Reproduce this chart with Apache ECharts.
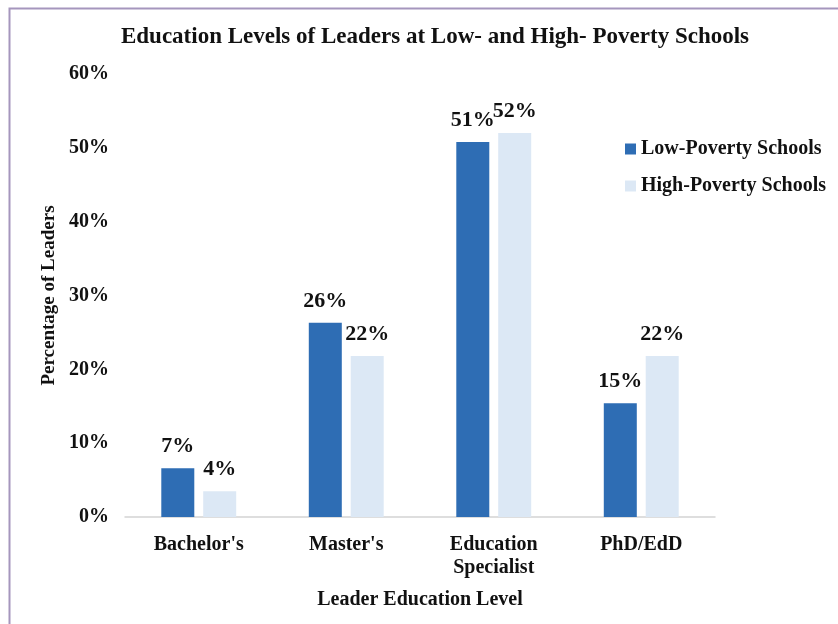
<!DOCTYPE html>
<html><head><meta charset="utf-8">
<script src="https://cdn.jsdelivr.net/npm/echarts@6/dist/echarts.min.js"></script>
<style>html,body{margin:0;padding:0;background:#fff}#c{width:838px;height:624px}</style>
</head><body><div id="c"></div>
<script>
const categories = ["Bachelor's", "Master's", "Education\nSpecialist", "PhD/EdD"];
const lowPoverty = [6.6, 26.3, 50.8, 15.4];
const highPoverty = [3.5, 21.8, 52.0, 21.8];
const yTicks = [0, 10, 20, 30, 40, 50, 60];
const seriesNames = ["Low-Poverty Schools", "High-Poverty Schools"];

const font = '"Liberation Serif", "Times New Roman", serif';
const chart = echarts.init(document.getElementById('c'));
const lbl = {
  show: true, position: 'top', distance: 11,
  fontFamily: font, fontWeight: 'bold', fontSize: 22, color: '#111',
  formatter: p => Math.round(p.value) + '%'
};
chart.setOption({
  animation: false,
  backgroundColor: '#fff',
  graphic: [{
    type: 'rect', shape: {x: 9.5, y: 8.5, width: 900, height: 700},
    style: {fill: 'none', stroke: '#a596bd', lineWidth: 2}, silent: true
  }],
  title: {
    text: 'Education Levels of Leaders at Low- and High- Poverty Schools',
    left: 430, top: 21, textAlign: 'center',
    textStyle: {fontFamily: font, fontWeight: 'bold', fontSize: 23, color: '#111'}
  },
  legend: {
    orient: 'vertical', left: 620, top: 134,
    itemWidth: 11, itemHeight: 11, itemGap: 17,
    icon: 'rect',
    textStyle: {fontFamily: font, fontWeight: 'bold', fontSize: 20, color: '#111'},
    data: seriesNames
  },
  grid: {left: 125, right: 123, top: 74, bottom: 107},
  xAxis: {
    type: 'category', data: categories,
    axisLine: {lineStyle: {color: '#d4d4d4', width: 1.5}},
    axisTick: {show: false},
    axisLabel: {fontFamily: font, fontWeight: 'bold', fontSize: 20, color: '#111', margin: 16, lineHeight: 23},
    name: 'Leader Education Level', nameLocation: 'middle', nameGap: 73,
    nameTextStyle: {fontFamily: font, fontWeight: 'bold', fontSize: 20, color: '#111'}
  },
  yAxis: {
    type: 'value', min: yTicks[0], max: yTicks[yTicks.length - 1], interval: 10,
    axisLine: {show: false}, axisTick: {show: false}, splitLine: {show: false},
    axisLabel: {fontFamily: font, fontWeight: 'bold', fontSize: 20, color: '#111', margin: 16,
      formatter: v => v + '%'},
    name: 'Percentage of Leaders', nameLocation: 'middle', nameGap: 66, nameRotate: 90,
    nameTextStyle: {fontFamily: font, fontWeight: 'bold', fontSize: 19, color: '#111'}
  },
  series: [
    {name: seriesNames[0], type: 'bar', data: lowPoverty, barWidth: 33, barGap: '27%',
     itemStyle: {color: '#2e6db4'}, label: lbl},
    {name: seriesNames[1], type: 'bar', data: highPoverty, barWidth: 33,
     itemStyle: {color: '#dce8f5'}, label: lbl}
  ]
});
</script></body></html>
